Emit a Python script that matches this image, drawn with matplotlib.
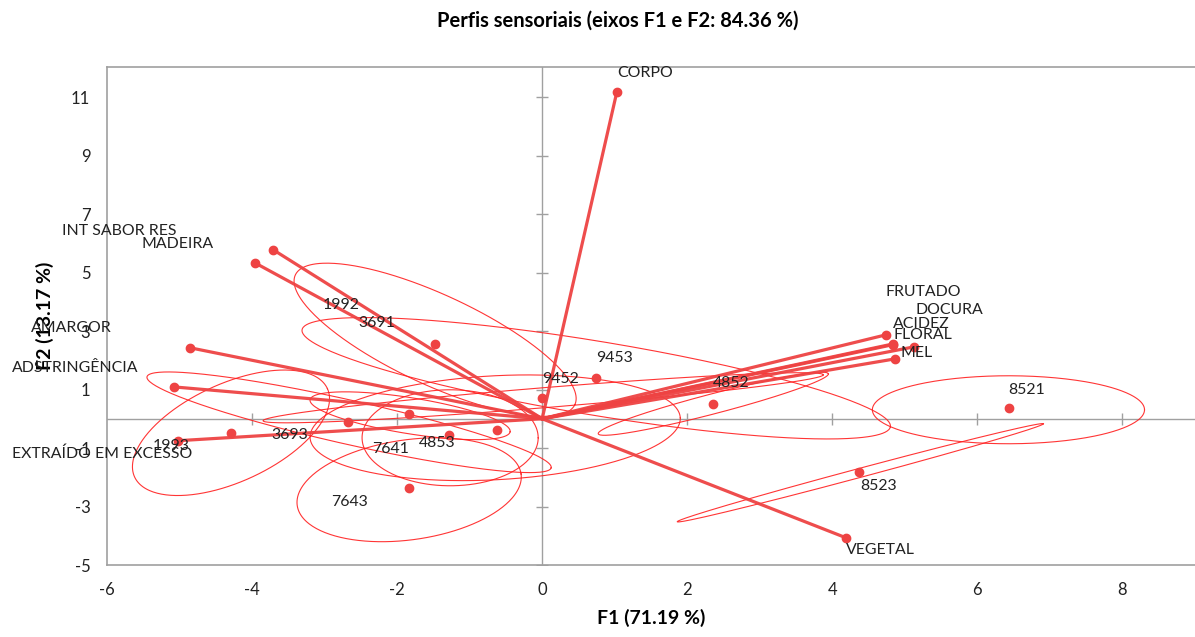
import matplotlib
matplotlib.use("Agg")
import matplotlib.pyplot as plt
import numpy as np

plt.rcParams['font.family'] = ['Lato', 'DejaVu Sans']
plt.rcParams['axes.unicode_minus'] = False

# variables (vectors from the origin)
var_names = ["CORPO", "INT SABOR RES", "MADEIRA", "AMARGOR", "ADSTRINGÊNCIA",
             "EXTRAÍDO EM EXCESSO", "VEGETAL", "FRUTADO", "ACIDEZ", "DOCURA",
             "FLORAL", "MEL"]
var_x = [1.03, -3.71, -3.96, -4.86, -5.08, -5.02, 4.19, 4.74, 4.84, 5.13, 4.83, 4.87]
var_y = [11.18, 5.78, 5.33, 2.43, 1.09, -0.75, -4.07, 2.87, 2.56, 2.46, 2.53, 2.05]
var_lab_x = [1.03, -6.62, -5.53, -7.05, -7.31, -7.31, 4.19, 4.74, 4.83, 5.14, 4.84, 4.94]
var_lab_y = [11.83, 6.43, 5.98, 3.11, 1.74, -1.20, -4.48, 4.34, 3.25, 3.73, 2.87, 2.26]

# observations (products)
obs_names = ["1992", "9452", "9453", "4852", "3693", "7641", "4853", "3691",
             "7643", "1993", "8521", "8523"]
obs_x = [-1.48, 0.0, 0.745, 2.36, -2.68, -1.83, -1.28, -0.62, -1.83, -4.29, 6.43, 4.37]
obs_y = [2.56, 0.72, 1.40, 0.51, -0.10, 0.17, -0.55, -0.38, -2.36, -0.48, 0.38, -1.81]
obs_lab_x = [-3.03, 0.0, 0.745, 2.36, -3.74, -2.34, -1.70, -2.54, -2.91, -5.37, 6.43, 4.39]
obs_lab_y = [3.90, 1.37, 2.09, 1.23, -0.55, -1.03, -0.82, 3.28, -2.84, -0.92, 0.99, -2.29]

# confidence ellipses: centre and two conjugate semi-axes (data units)
ell_cx = [6.428, 4.386, -1.476, 0.745, -4.290, -2.662, -1.834, -1.269, -1.821, -0.648, 0.014, 2.359]
ell_cy = [0.308, -1.846, 2.701, 1.385, -0.479, -0.120, -2.427, -0.650, 0.103, -0.308, 0.718, 0.513]
ell_ax = [1.876, 2.524, 1.927, 4.055, 1.329, 2.786, 1.543, 1.214, 1.379, 2.552, 3.862, 1.586]
ell_ay = [0.0, 1.675, -2.216, -1.658, 1.511, -1.556, 0.540, 0.0, -0.547, 0.342, 0.786, 1.026]
ell_bx = [0.0, 0.016, -0.261, -0.083, 0.282, -0.067, 0.097, 0.0, -0.039, 0.039, 0.011, 0.035]
ell_by = [1.162, -0.149, -1.395, -1.248, -1.523, -0.734, -1.692, 1.641, -0.608, -1.774, -0.341, -0.331]

x_ticks = [-6, -4, -2, 0, 2, 4, 6, 8]
y_ticks = [-5, -3, -1, 1, 3, 5, 7, 9, 11]

red_vec = '#EE4343'
red_ell = '#FF1F1F'
grey = '#A0A0A0'

fig = plt.figure(figsize=(11.95, 6.37), dpi=100)
ax = fig.add_axes([0.0895, 0.113, 0.9105, 0.782])
ax.set_xlim(-6, 9.0)
ax.set_ylim(-5, 12.03)

# zero axes with little cross ticks
ax.axhline(0, color=grey, lw=1.0, zorder=1)
ax.axvline(0, color=grey, lw=1.0, zorder=1)
ax.plot([t for t in x_ticks if t != -6], [0] * (len(x_ticks) - 1), ls='none', marker='|',
        ms=9, mew=1.0, color=grey, zorder=1)
ax.plot([0] * len(y_ticks), y_ticks, ls='none', marker='_', ms=9, mew=1.0, color=grey, zorder=1)

# ellipses
t = np.linspace(0, 2 * np.pi, 300)
for i in range(len(ell_cx)):
    ex = ell_cx[i] + ell_ax[i] * np.cos(t) + ell_bx[i] * np.sin(t)
    ey = ell_cy[i] + ell_ay[i] * np.cos(t) + ell_by[i] * np.sin(t)
    ax.plot(ex, ey, color=red_ell, lw=0.8, alpha=0.9, zorder=2)

# variable vectors
for i in range(len(var_names)):
    ax.plot([0, var_x[i]], [0, var_y[i]], color=red_vec, lw=2.3, alpha=0.95, zorder=3,
            solid_capstyle='round')
ax.plot(var_x, var_y, ls='none', marker='o', ms=6, color=red_vec, zorder=4)
for i in range(len(var_names)):
    ax.text(var_lab_x[i], var_lab_y[i], var_names[i], ha='left', va='center',
            fontsize=11.4, color='#222222', zorder=5)

# observations
ax.plot(obs_x, obs_y, ls='none', marker='o', ms=6, color=red_vec, zorder=4)
for i in range(len(obs_names)):
    ax.text(obs_lab_x[i], obs_lab_y[i], obs_names[i], ha='left', va='center',
            fontsize=11.4, color='#222222', zorder=5)

ax.set_xticks(x_ticks)
ax.set_yticks(y_ticks)
ax.tick_params(length=0, labelsize=12, labelcolor='#222222', pad=12)
for s in ['left', 'bottom', 'top']:
    ax.spines[s].set_color(grey)
    ax.spines[s].set_linewidth(1.2)
ax.spines['right'].set_visible(False)

ax.set_xlabel("F1 (71.19 %)", fontsize=14, fontweight='bold', labelpad=8)
ax.set_ylabel("F2 (13.17 %)", fontsize=14, fontweight='bold', labelpad=12)
fig.text(0.517, 0.968, "Perfis sensoriais (eixos F1 e F2: 84.36 %)", ha='center', va='center',
         fontsize=14.5, fontweight='bold')

fig.savefig("out.png", dpi=100)
